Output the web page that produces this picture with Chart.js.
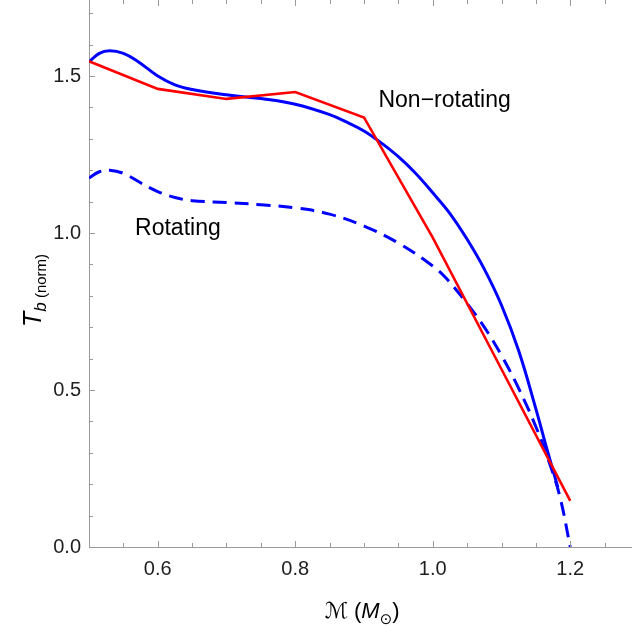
<!DOCTYPE html>
<html>
<head>
<meta charset="utf-8">
<script src="https://cdn.jsdelivr.net/npm/chart.js@4"></script>
<style>
  html, body { margin: 0; padding: 0; background: #ffffff; overflow: hidden; }
  #wrap { position: absolute; left: 0; top: 0; width: 639px; height: 627px; }
</style>
</head>
<body>
<div id="wrap"><canvas id="chart" width="639" height="627"></canvas></div>
<script>
// Non-rotating models (tabulated, straight segments)
const massNonRot = [0.50, 0.60, 0.70, 0.80, 0.90, 1.00, 1.10, 1.20];
const tbNonRot   = [1.547, 1.459, 1.427, 1.449, 1.368, 0.985, 0.566, 0.147];

// Smooth non-rotating fit
const massFit = [0.50, 0.515, 0.53, 0.55, 0.57, 0.60, 0.625, 0.65, 0.70, 0.75, 0.80, 0.85, 0.875,
                 0.90, 0.925, 0.95, 0.975, 1.00, 1.025, 1.05, 1.075, 1.10, 1.125, 1.15, 1.165, 1.182];
const tbFit   = [1.545, 1.572, 1.580, 1.572, 1.548, 1.500, 1.472, 1.457, 1.440, 1.428, 1.410, 1.377, 1.353,
                 1.325, 1.287, 1.243, 1.190, 1.128, 1.062, 0.980, 0.885, 0.770, 0.625, 0.440, 0.320, 0.190];

// Rotating sequence
const massRot = [0.50, 0.515, 0.53, 0.55, 0.575, 0.60, 0.625, 0.65, 0.70, 0.75, 0.80, 0.85, 0.90,
                 0.95, 1.00, 1.02, 1.05, 1.075, 1.10, 1.125, 1.15, 1.17, 1.185, 1.20];
const tbRot   = [1.175, 1.195, 1.200, 1.190, 1.160, 1.132, 1.113, 1.103, 1.097, 1.090, 1.080, 1.060, 1.022,
                 0.968, 0.895, 0.855, 0.775, 0.700, 0.610, 0.505, 0.383, 0.266, 0.160, 0.000];

const xTickLabels = [0.6, 0.8, 1.0, 1.2];
const yTickLabels = [0.0, 0.5, 1.0, 1.5];

const FRAME = '#9a9a9a';
const LABEL = '#1e1e1e';
const SANS = "'Liberation Sans', Arial, sans-serif";

const pairs = (xs, ys) => xs.map((x, i) => ({ x: x, y: ys[i] }));

// Inward tick marks on all four sides of the frame, major + minor
const frameTicks = {
  id: 'frameTicks',
  afterDatasetsDraw(chart) {
    const { ctx, chartArea: a, scales: { x, y } } = chart;
    ctx.save();
    ctx.strokeStyle = FRAME;
    ctx.lineWidth = 1;
    ctx.beginPath();
    for (let i = 0; i <= 16; i++) {
      const v = 0.5 + i * 0.05;
      const major = (i % 4 === 2);
      const L = major ? 6 : 4;
      const px = Math.round(x.getPixelForValue(v)) + 0.5;
      ctx.moveTo(px, a.bottom); ctx.lineTo(px, a.bottom - L);
      ctx.moveTo(px, a.top);    ctx.lineTo(px, a.top + L);
    }
    for (let i = 0; i <= 17; i++) {
      const v = i * 0.1;
      const major = (i % 5 === 0);
      const L = major ? 6 : 4;
      const py = Math.round(y.getPixelForValue(v)) + 0.5;
      ctx.moveTo(a.left, py);  ctx.lineTo(a.left + L, py);
      ctx.moveTo(a.right, py); ctx.lineTo(a.right - L, py);
    }
    ctx.stroke();
    ctx.restore();
  }
};

// Axis titles with subscripts and the curve annotations
const textLayer = {
  id: 'textLayer',
  afterDraw(chart) {
    const { ctx, scales: { x, y } } = chart;
    ctx.save();
    ctx.fillStyle = '#000';
    ctx.textBaseline = 'alphabetic';
    ctx.textAlign = 'left';

    // curve labels
    ctx.font = `23px ${SANS}`;
    ctx.fillText('Non\u2212rotating', x.getPixelForValue(0.921), y.getPixelForValue(1.402));
    ctx.fillText('Rotating', x.getPixelForValue(0.567), y.getPixelForValue(0.994));

    // x title: ℳ (M⊙)
    const parts = [
      { t: '\u2133', f: `22px 'DejaVu Serif', 'DejaVu Sans', serif`, dy: 0 },
      { t: ' (', f: `22px ${SANS}`, dy: 0 },
      { t: 'M', f: `italic 22px ${SANS}`, dy: 0 },
      { t: '\u2299', f: `15px 'DejaVu Sans', sans-serif`, dy: 6 },
      { t: ')', f: `22px ${SANS}`, dy: 0 }
    ];
    let total = 0;
    parts.forEach(p => { ctx.font = p.f; p.w = ctx.measureText(p.t).width; total += p.w; });
    let cx = 362 - total / 2;
    const base = 618;
    parts.forEach(p => { ctx.font = p.f; ctx.fillText(p.t, cx, base + p.dy); cx += p.w; });

    // y title: T_b (norm), rotated
    ctx.translate(41, 327);
    ctx.rotate(-Math.PI / 2);
    const yparts = [
      { t: 'T', f: `italic 25px ${SANS}`, dy: 0 },
      { t: 'b', f: `italic 17px ${SANS}`, dy: 5 },
      { t: ' (norm)', f: `15px ${SANS}`, dy: 5 }
    ];
    let tx = 0;
    yparts.forEach(p => { ctx.font = p.f; ctx.fillText(p.t, tx, p.dy); tx += ctx.measureText(p.t).width; });
    ctx.restore();
  }
};

new Chart(document.getElementById('chart'), {
  type: 'line',
  data: {
    datasets: [
      {
        label: 'Non-rotating models',
        data: pairs(massNonRot, tbNonRot),
        borderColor: '#ff0000',
        borderWidth: 2.6,
        pointRadius: 0,
        tension: 0,
        fill: false
      },
      {
        label: 'Non-rotating fit',
        data: pairs(massFit, tbFit),
        borderColor: '#0000ff',
        borderWidth: 3,
        pointRadius: 0,
        tension: 0.4,
        fill: false
      },
      {
        label: 'Rotating',
        data: pairs(massRot, tbRot),
        borderColor: '#0000ff',
        borderWidth: 3,
        borderDash: [14, 8],
        pointRadius: 0,
        tension: 0.4,
        fill: false
      }
    ]
  },
  options: {
    responsive: false,
    animation: false,
    devicePixelRatio: 1,
    layout: { padding: 0 },
    plugins: { legend: { display: false }, tooltip: { enabled: false } },
    scales: {
      x: {
        type: 'linear',
        position: 'bottom',
        min: 0.5,
        max: 1.3,
        afterBuildTicks: s => { s.ticks = xTickLabels.map(v => ({ value: v })); },
        afterFit: s => { s.height = 80; s.paddingLeft = 0; s.paddingRight = 0; },
        grid: { display: false, drawTicks: false },
        border: { display: true, color: FRAME, width: 1 },
        ticks: {
          color: LABEL,
          font: { family: SANS, size: 20 },
          padding: 10,
          maxRotation: 0,
          callback: v => Number(v).toFixed(1)
        }
      },
      y: {
        type: 'linear',
        position: 'left',
        min: 0,
        max: 1.742,
        afterBuildTicks: s => { s.ticks = yTickLabels.map(v => ({ value: v })); },
        afterFit: s => { s.width = 89; s.paddingTop = 0; s.paddingBottom = 0; },
        grid: { display: false, drawTicks: false },
        border: { display: true, color: FRAME, width: 1 },
        ticks: {
          color: LABEL,
          font: { family: SANS, size: 20 },
          padding: 8,
          callback: v => Number(v).toFixed(1)
        }
      }
    }
  },
  plugins: [frameTicks, textLayer]
});
</script>
</body>
</html>
